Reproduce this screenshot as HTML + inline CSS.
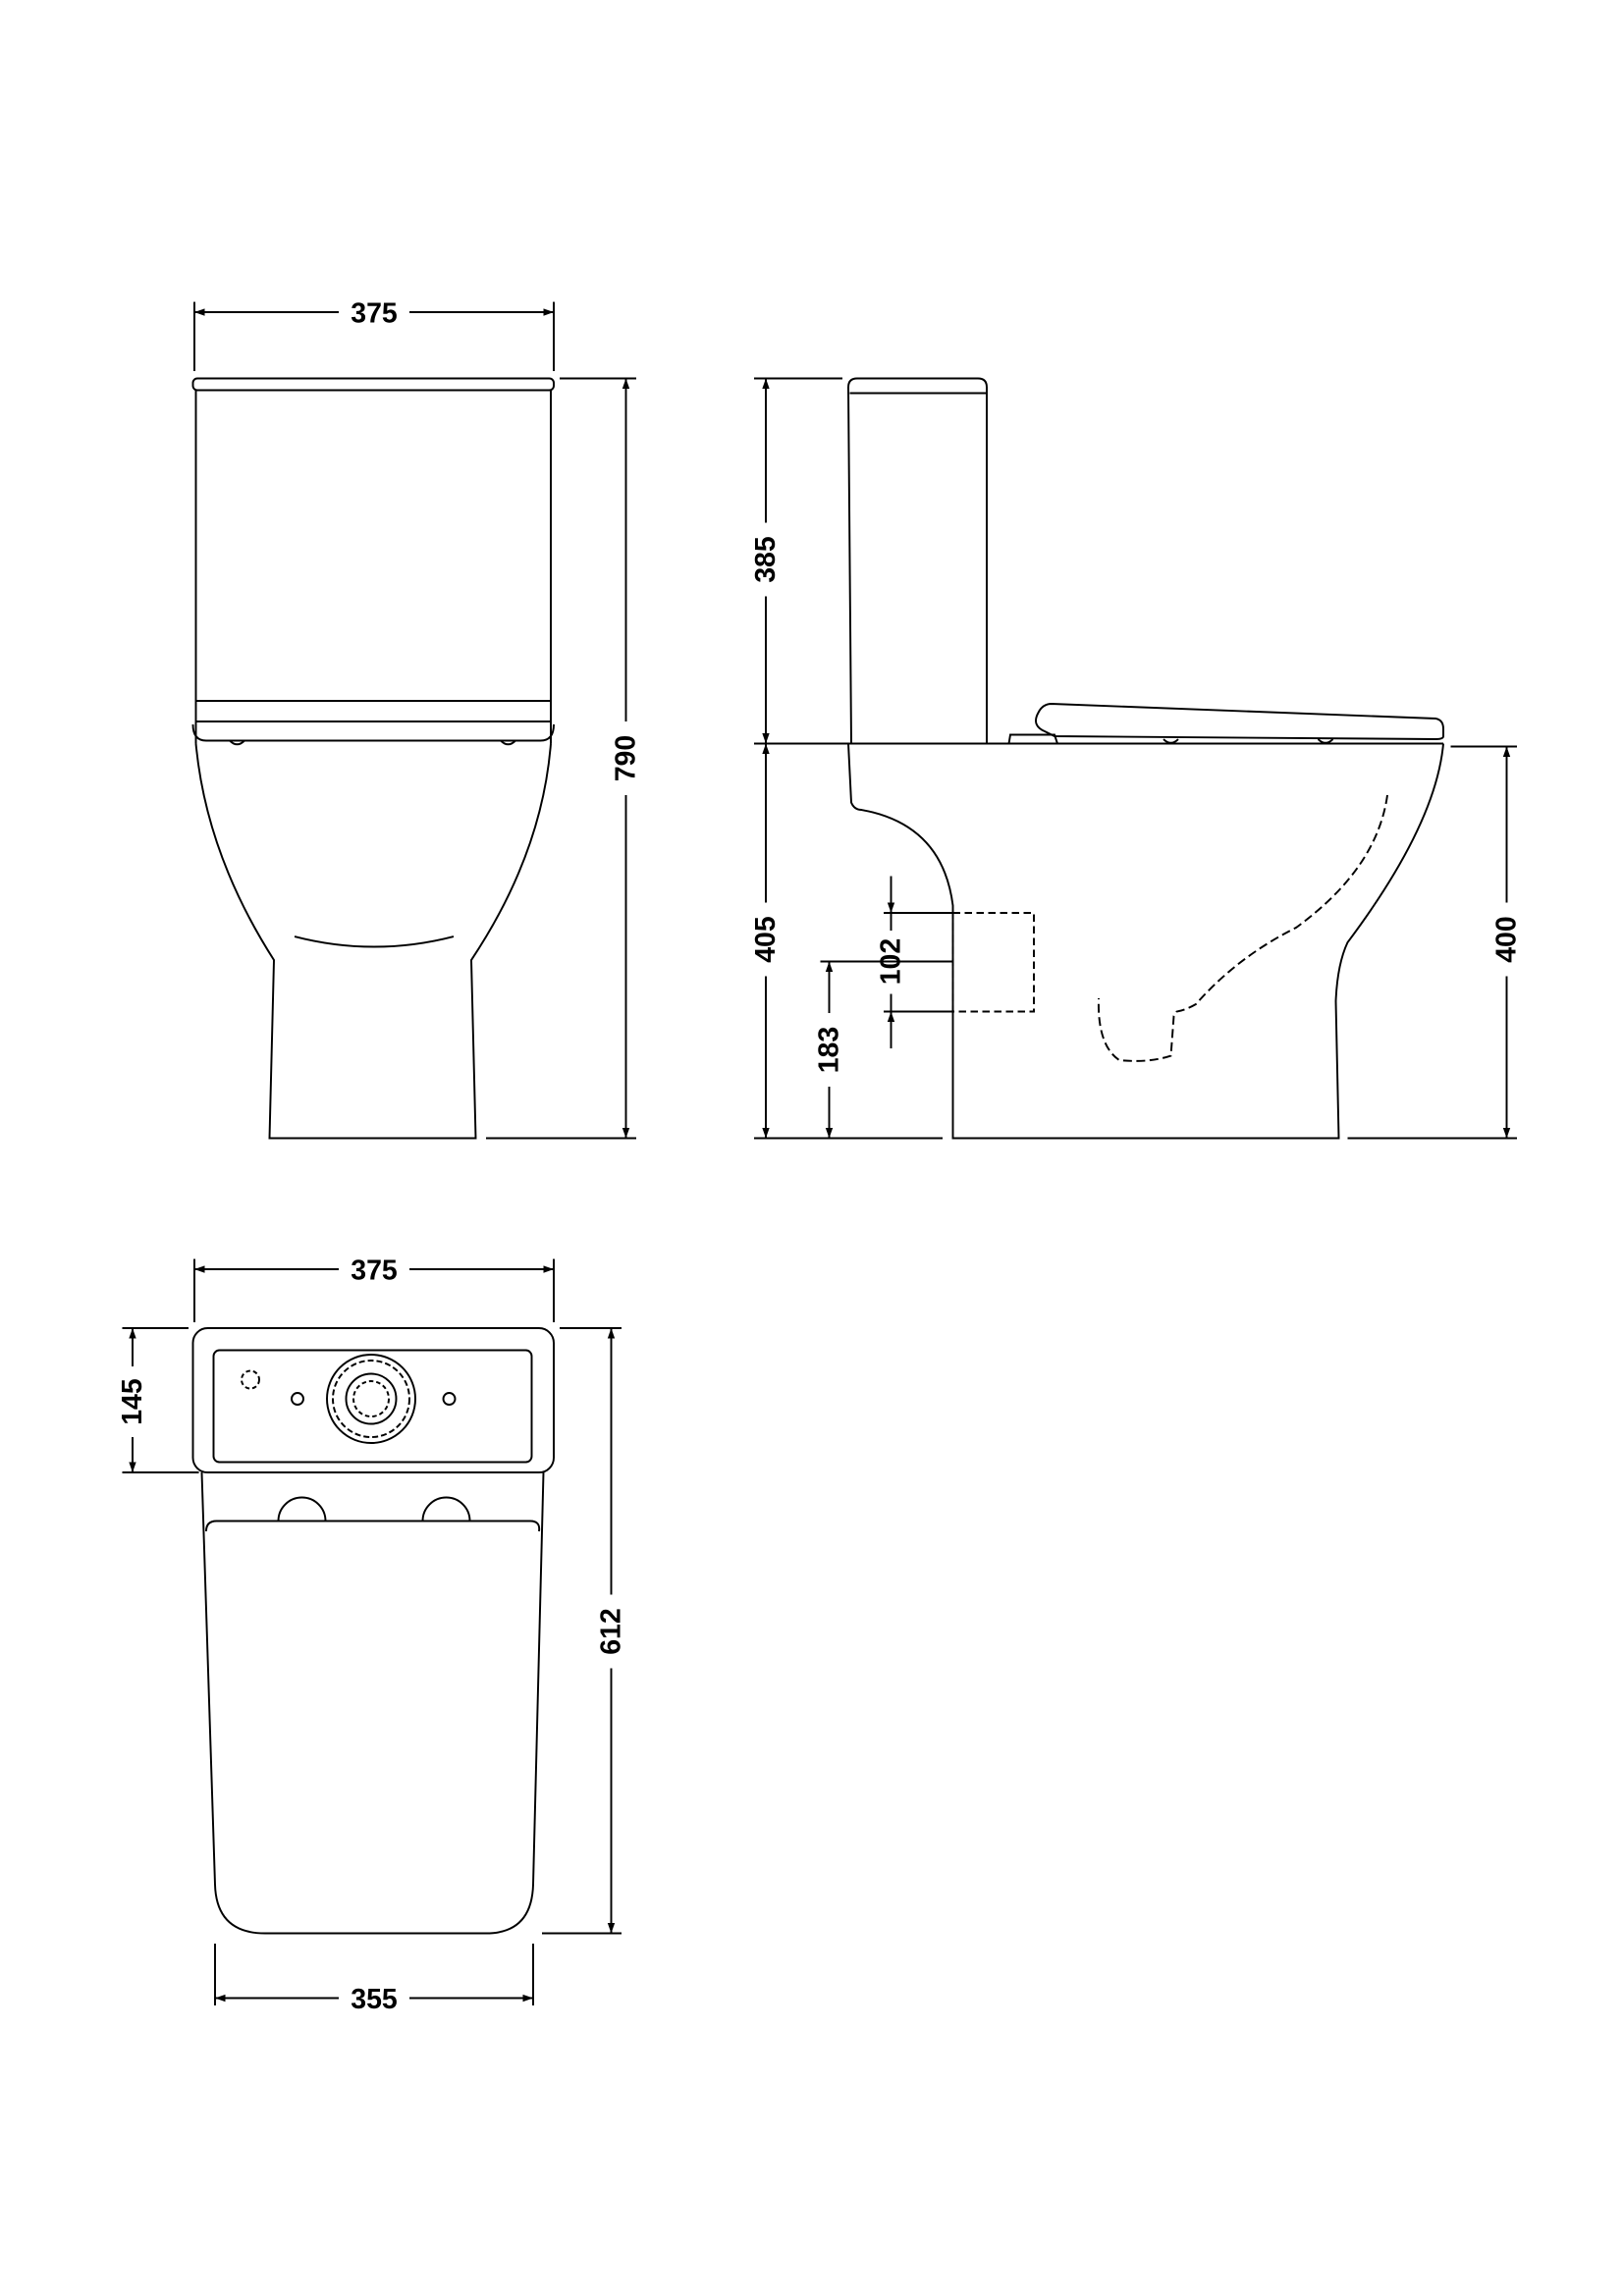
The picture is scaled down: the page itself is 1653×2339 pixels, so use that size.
<!DOCTYPE html>
<html><head><meta charset="utf-8"><style>
html,body{margin:0;padding:0;background:#fff;}
svg{display:block}
text{font-family:"Liberation Sans",sans-serif;font-weight:bold;font-size:19px;fill:#000}
</style></head><body>
<svg width="1653" height="2339" viewBox="0 0 1102 1559.3" xmlns="http://www.w3.org/2000/svg">
<defs>
<marker id="a" viewBox="0 0 10 10" refX="10" refY="5" markerWidth="9" markerHeight="7" orient="auto-start-reverse" markerUnits="userSpaceOnUse"><path d="M0,1.5 L10,5 L0,8.5z" fill="#000"/></marker>
</defs>
<g fill="none" stroke="#000" stroke-width="1.3">
<!-- FRONT VIEW -->
<line x1="132" y1="205" x2="132" y2="252"/><line x1="376" y1="205" x2="376" y2="252"/>
<line x1="132" y1="212" x2="230" y2="212" marker-start="url(#a)"/><line x1="278" y1="212" x2="376" y2="212" marker-end="url(#a)"/>
<rect x="131" y="257" width="245" height="8" rx="3"/>
<line x1="133" y1="265" x2="133" y2="505"/><line x1="374" y1="265" x2="374" y2="505"/>
<line x1="133" y1="476" x2="374" y2="476"/><line x1="133" y1="490" x2="374" y2="490"/>
<path d="M131,492 Q131,503 140,503 L367,503 Q376,503 376,492"/>
<path d="M156,503 Q161,508 166,503 M340,503 Q345,508 350,503"/>
<path d="M133,505 Q140,580 186,652 L183,773 L323,773 L320,652 Q368,580 374,505"/>
<path d="M200,636 Q254,650 308,636"/>
<line x1="380" y1="257" x2="432" y2="257"/><line x1="330" y1="773" x2="432" y2="773"/>
<line x1="425" y1="257" x2="425" y2="490" marker-start="url(#a)"/><line x1="425" y1="540" x2="425" y2="773" marker-end="url(#a)"/>
<!-- SIDE VIEW -->
<line x1="512" y1="257" x2="572" y2="257"/><line x1="512" y1="505" x2="980" y2="505"/><line x1="512" y1="773" x2="640" y2="773"/>
<line x1="520" y1="257" x2="520" y2="355" marker-start="url(#a)"/><line x1="520" y1="405" x2="520" y2="505" marker-end="url(#a)"/>
<line x1="520" y1="505" x2="520" y2="613" marker-start="url(#a)"/><line x1="520" y1="663" x2="520" y2="773" marker-end="url(#a)"/>
<path d="M578,505 L576,263 Q576,257 582,257 L664,257 Q670,257 670,263 L670,505"/>
<line x1="577" y1="267" x2="670" y2="267"/>
<path d="M685,505 L686,499 L716,499 L718,505"/>
<path d="M716,500 L710,497 Q700,493 705,484 Q708,478 714,478 L975,488 Q980,489 980,495 L980,500 Q980,502 975,502 Z"/>
<path d="M790,502 Q795,507 800,502 M895,502 Q900,507 905,502"/>
<path d="M576,505 L578,545 Q580,550 585,550 Q640,560 647,615 L647,773 L909,773 L907,680 Q908,655 915,640 Q975,560 980,505"/>
<rect x="647" y="620" width="55" height="67" stroke-dasharray="5,3"/>
<path d="M942,540 Q935,590 880,630 Q840,650 812,682 Q805,686 799,687 L797,690 L795,717 Q780,722 760,720 Q745,710 746,678" stroke-dasharray="6,3"/>
<line x1="600" y1="620" x2="647" y2="620"/><line x1="600" y1="687" x2="647" y2="687"/>
<line x1="605" y1="595" x2="605" y2="620" marker-end="url(#a)"/><line x1="605" y1="712" x2="605" y2="687" marker-end="url(#a)"/>
<line x1="605" y1="620" x2="605" y2="632"/><line x1="605" y1="675" x2="605" y2="687"/>
<line x1="557" y1="653" x2="647" y2="653"/>
<line x1="563" y1="653" x2="563" y2="688" marker-start="url(#a)"/><line x1="563" y1="738" x2="563" y2="773" marker-end="url(#a)"/>
<line x1="985" y1="507" x2="1030" y2="507"/><line x1="915" y1="773" x2="1030" y2="773"/>
<line x1="1023" y1="507" x2="1023" y2="613" marker-start="url(#a)"/><line x1="1023" y1="663" x2="1023" y2="773" marker-end="url(#a)"/>
<!-- PLAN VIEW -->
<line x1="132" y1="855" x2="132" y2="898"/><line x1="376" y1="855" x2="376" y2="898"/>
<line x1="132" y1="862" x2="230" y2="862" marker-start="url(#a)"/><line x1="278" y1="862" x2="376" y2="862" marker-end="url(#a)"/>
<rect x="131" y="902" width="245" height="98" rx="10"/>
<rect x="145" y="917" width="216" height="76" rx="4"/>
<circle cx="170" cy="937" r="6" stroke-dasharray="3,2"/>
<circle cx="202" cy="950" r="4"/><circle cx="305" cy="950" r="4"/>
<circle cx="252" cy="950" r="30"/><circle cx="252" cy="950" r="26" stroke-dasharray="4,2"/>
<circle cx="252" cy="950" r="17"/><circle cx="252" cy="950" r="12" stroke-dasharray="3,2"/>
<path d="M137,1000 L146,1280 Q147,1313 180,1313 L330,1313 Q361,1313 362,1280 L369,1000"/>
<path d="M140,1040 Q140,1033 147,1033 L360,1033 Q367,1033 366,1040"/>
<path d="M189,1033 A16,16 0 0 1 221,1033 M287,1033 A16,16 0 0 1 319,1033"/>
<line x1="83" y1="902" x2="128" y2="902"/><line x1="83" y1="1000" x2="135" y2="1000"/>
<line x1="90" y1="902" x2="90" y2="928" marker-start="url(#a)"/><line x1="90" y1="976" x2="90" y2="1000" marker-end="url(#a)"/>
<line x1="380" y1="902" x2="422" y2="902"/><line x1="368" y1="1313" x2="422" y2="1313"/>
<line x1="415" y1="902" x2="415" y2="1083" marker-start="url(#a)"/><line x1="415" y1="1133" x2="415" y2="1313" marker-end="url(#a)"/>
<line x1="146" y1="1320" x2="146" y2="1362"/><line x1="362" y1="1320" x2="362" y2="1362"/>
<line x1="146" y1="1357" x2="230" y2="1357" marker-start="url(#a)"/><line x1="278" y1="1357" x2="362" y2="1357" marker-end="url(#a)"/>
</g>
<g text-anchor="middle" dominant-baseline="central">
<text x="254" y="213">375</text>
<text x="254" y="863">375</text>
<text x="254" y="1358">355</text>
<text transform="translate(425,515) rotate(-90)">790</text>
<text transform="translate(520,380) rotate(-90)">385</text>
<text transform="translate(520,638) rotate(-90)">405</text>
<text transform="translate(605,653) rotate(-90)">102</text>
<text transform="translate(563,713) rotate(-90)">183</text>
<text transform="translate(1023,638) rotate(-90)">400</text>
<text transform="translate(90,952) rotate(-90)">145</text>
<text transform="translate(415,1108) rotate(-90)">612</text>
</g>
</svg>
</body></html>
